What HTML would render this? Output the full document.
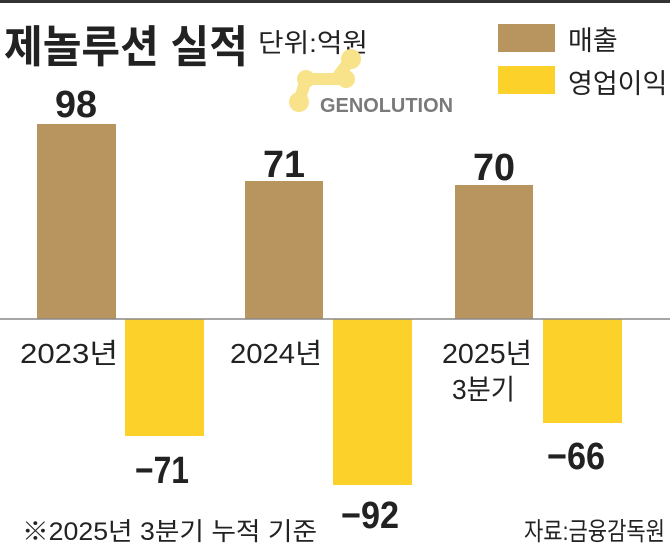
<!DOCTYPE html>
<html><head><meta charset="utf-8"><style>
body{margin:0;background:#fff;}
svg{display:block}
text{font-family:"Liberation Sans","Noto Sans CJK KR",sans-serif;}
</style></head><body>
<svg width="670" height="549" viewBox="0 0 670 549">
<rect x="0" y="0" width="670" height="3" fill="#333"/>
<text x="4" y="62" font-size="44" font-weight="bold" fill="#222" textLength="244" lengthAdjust="spacingAndGlyphs">제놀루션 실적</text>
<text x="258" y="52" font-size="26" fill="#222" textLength="110" lengthAdjust="spacingAndGlyphs">단위:억원</text>
<rect x="498" y="24" width="57" height="28" fill="#b8945f"/>
<text x="568" y="50" font-size="27" fill="#222">매출</text>
<rect x="498" y="66" width="57" height="28" fill="#fcd22a"/>
<text x="568" y="93" font-size="27" fill="#222">영업이익</text>
<g fill="#f9e38a" stroke="#f9e38a" stroke-linecap="round">
<circle cx="351" cy="59" r="10" stroke="none"/><circle cx="346" cy="79" r="9" stroke="none"/><circle cx="306" cy="79" r="9" stroke="none"/>
<circle cx="299" cy="102" r="10" stroke="none"/>
<line x1="351" y1="59" x2="336" y2="79" stroke-width="12"/>
<line x1="306" y1="79" x2="346" y2="79" stroke-width="12"/>
<line x1="306" y1="79" x2="299" y2="102" stroke-width="12"/>
</g>
<text x="320" y="112" font-size="20" font-weight="bold" fill="#7a7a7a" textLength="133" lengthAdjust="spacingAndGlyphs">GENOLUTION</text>
<rect x="37" y="124" width="79" height="195" fill="#b8945f"/>
<rect x="245" y="181" width="78" height="138" fill="#b8945f"/>
<rect x="455" y="185" width="78" height="134" fill="#b8945f"/>
<rect x="125" y="319" width="79" height="117" fill="#fcd22a"/>
<rect x="333" y="319" width="79" height="166" fill="#fcd22a"/>
<rect x="543" y="319" width="79" height="104" fill="#fcd22a"/>
<line x1="0" y1="319" x2="670" y2="319" stroke="#888" stroke-width="1.5"/>
<g font-size="38" font-weight="bold" fill="#222" text-anchor="middle">
<text x="76" y="117" textLength="42" lengthAdjust="spacingAndGlyphs">98</text>
<text x="284" y="177" textLength="42" lengthAdjust="spacingAndGlyphs">71</text>
<text x="494" y="180" textLength="42" lengthAdjust="spacingAndGlyphs">70</text>
<text x="162" y="483" textLength="54" lengthAdjust="spacingAndGlyphs">−71</text>
<text x="370" y="528" textLength="58" lengthAdjust="spacingAndGlyphs">−92</text>
<text x="576" y="469" textLength="58" lengthAdjust="spacingAndGlyphs">−66</text>
</g>
<g font-size="28" fill="#222">
<text x="20" y="363" textLength="98" lengthAdjust="spacingAndGlyphs">2023년</text>
<text x="230" y="363" textLength="92" lengthAdjust="spacingAndGlyphs">2024년</text>
<text x="442" y="363" textLength="90" lengthAdjust="spacingAndGlyphs">2025년</text>
<text x="452" y="399" textLength="63" lengthAdjust="spacingAndGlyphs">3분기</text>
</g>
<text x="22" y="540" font-size="25" fill="#222" textLength="295" lengthAdjust="spacingAndGlyphs">※2025년 3분기 누적 기준</text>
<text x="524" y="540" font-size="25" fill="#222" textLength="141" lengthAdjust="spacingAndGlyphs">자료:금융감독원</text>
</svg>
</body></html>
